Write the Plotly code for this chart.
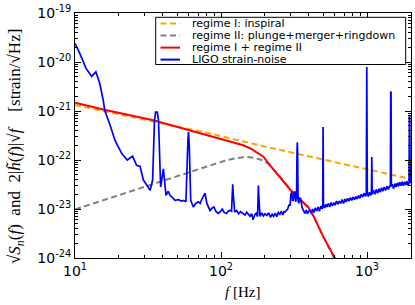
import plotly.graph_objects as go

# ---------------- data ----------------
ligo_f = [10.0, 10.8, 11.9, 13.0, 13.9, 14.8, 15.6, 16.0, 17.4, 18.8, 20.9, 22.8, 24.8, 26.4, 27.9,
          29.4, 30.5, 32.7, 34.0, 35.0, 35.6, 36.6, 37.3, 38.6, 40.3, 42.0, 43.5, 44.7, 46.5, 48.4,
          51, 53.7, 55.5, 57.5, 59.3, 59.9, 60.6, 62.0, 64.6, 67, 70, 72, 74, 77.7, 80, 82, 84.1,
          87, 89.5, 92, 95.5, 98.5,
          102, 105, 109, 112, 115, 118, 119.5, 120.3, 121.2, 124, 128, 132, 136, 142, 146, 150, 154,
          158, 162, 166, 170, 174, 178, 179.3, 180.2, 181.2, 185, 190, 195, 200, 206, 212, 218, 224,
          229, 235, 241, 247, 253, 259, 265, 270, 274, 280, 286, 292, 297, 301, 305, 309, 313, 317,
          321, 325, 329, 331.5, 333, 334.5, 337, 341, 346, 352, 358, 366, 375, 383, 390, 398, 407,
          415, 424, 433, 442, 452, 462, 472, 482, 492, 497, 500, 503, 512, 522, 532, 543, 555, 567,
          580, 592, 605, 618, 632, 646, 660, 675, 690, 705, 720, 736, 752, 768, 785, 802, 820, 838,
          856, 875, 894, 913, 933, 953, 975, 988, 996, 1004, 1020, 1040, 1060, 1072, 1078, 1084,
          1105, 1130, 1155, 1180, 1205, 1230, 1255, 1280, 1310, 1340, 1370, 1400, 1430, 1445, 1452,
          1460, 1467, 1490, 1520, 1550, 1580, 1610, 1640, 1670, 1700, 1735, 1770, 1805, 1840, 1875,
          1910, 1940, 1950, 1960, 1975, 2000]
ligo_asd = [2.4e-20, 1.48e-20, 7.4e-21, 5.1e-21, 6.3e-21, 3.6e-21, 1.66e-21, 1.02e-21, 5.1e-22,
            2.5e-22, 1.35e-22, 1.0e-22, 1.2e-22, 7.8e-23, 7.4e-23, 3.9e-23, 3.3e-23, 2.4e-23,
            3.9e-23, 6.0e-22, 9.5e-22, 9.5e-22, 6.5e-22, 2.8e-23, 6.6e-23, 1.9e-23, 2.3e-23,
            1.9e-23, 1.7e-23, 1.5e-23, 1.55e-23, 1.45e-23, 1.5e-23, 1.4e-23, 2.5e-22, 3.7e-22,
            2.0e-22, 1.5e-23, 1.1e-23, 1.3e-23, 1.4e-23, 1.3e-23, 1.6e-23, 2.1e-23, 1.3e-23,
            1.1e-23, 9.3e-24, 1.05e-23, 1.1e-23, 9.0e-24, 8.1e-24, 8.7e-24,
            1.0e-23, 8.5e-24, 8.1e-24, 9.0e-24, 9.3e-24, 9.0e-24, 2.5e-23, 3.2e-23, 2.0e-23,
            8.7e-24, 9.3e-24, 8.0e-24, 8.8e-24, 8.1e-24, 7.5e-24, 8.6e-24, 7.7e-24, 7.1e-24,
            8.0e-24, 6.0e-24, 7.6e-24, 8.2e-24, 7.0e-24, 2.4e-23, 3.0e-23, 2.0e-23, 7.1e-24,
            8.3e-24, 7.2e-24, 8.0e-24, 7.4e-24, 8.4e-24, 6.8e-24, 7.8e-24, 7.1e-24, 8.2e-24,
            7.0e-24, 8.5e-24, 7.8e-24, 9.0e-24, 7.6e-24, 8.8e-24, 8.7e-24, 9.5e-24, 1.0e-23,
            1.2e-23, 1.2e-23, 2.0e-23, 2.2e-23, 1.5e-23, 1.5e-23, 2.2e-23, 2.2e-23, 1.4e-23,
            2.0e-23, 1.5e-22, 2.3e-22, 1.5e-22, 1.5e-23, 1.3e-23, 1.7e-23, 1.6e-23, 1.1e-23,
            9.3e-24, 8.1e-24, 9.5e-24, 8.0e-24, 9.0e-24, 9.3e-24, 8.2e-24, 1.0e-23, 8.5e-24,
            1.05e-23, 9.1e-24, 1.1e-23, 9.0e-24, 1.15e-23, 1.0e-23, 1.1e-23, 4.7e-22, 1.2e-23,
            1.05e-23, 1.25e-23, 1.1e-23, 1.3e-23, 1.1e-23, 1.35e-23, 1.15e-23, 1.35e-23, 1.2e-23,
            1.45e-23, 1.25e-23, 1.45e-23, 1.3e-23, 1.55e-23, 1.3e-23, 1.6e-23, 1.4e-23, 1.65e-23,
            1.45e-23, 1.7e-23, 1.5e-23, 1.75e-23, 1.55e-23, 1.8e-23, 1.6e-23, 1.9e-23, 1.65e-23,
            2.0e-23, 1.75e-23, 2.1e-23, 1.8e-23, 2.0e-23, 7.9e-21, 2.1e-23, 1.8e-23, 2.2e-23,
            1.9e-23, 2.2e-23, 1.15e-22, 2.0e-23, 2.4e-23, 2.0e-23, 2.5e-23, 2.1e-23, 2.6e-23,
            2.2e-23, 2.7e-23, 2.3e-23, 2.8e-23, 2.4e-23, 2.9e-23, 2.5e-23, 3.0e-23, 2.8e-23,
            2.5e-21, 2.4e-21, 2.9e-23, 3.2e-23, 2.6e-23, 3.3e-23, 2.8e-23, 3.4e-23, 2.9e-23,
            3.5e-23, 3.0e-23, 3.6e-23, 3.0e-23, 3.6e-23, 3.1e-23, 3.7e-23, 3.0e-23, 3.5e-23,
            7.6e-22, 7.6e-22, 3.4e-23, 3.6e-23]

inspiral_f = [10, 84, 216, 1862, 2000]
inspiral_h = [1.32e-21, 3.47e-22, 1.78e-22, 4.27e-23, 4.1e-23]

pmr_f = [10, 30, 60, 90, 110, 130, 150, 170, 190, 210, 240, 270, 300, 345, 395, 428, 502, 604, 650]
pmr_h = [9.8e-24, 2.8e-23, 5.6e-23, 8.3e-23, 1.0e-22, 1.1e-22, 1.15e-22, 1.1e-22, 1.0e-22, 8.5e-23,
         5.5e-23, 3.7e-23, 2.4e-23, 1.55e-23, 1.08e-23, 7.3e-24, 2.7e-24, 9.8e-25, 6.0e-25]

total_f = [10, 15.6, 34.4, 58, 98.5, 142, 160, 175, 195, 216, 253, 297, 345, 395, 428, 502, 604, 650]
total_h = [1.48e-21, 1.07e-21, 6.5e-22, 4.2e-22, 2.75e-22, 2.0e-22, 1.7e-22, 1.45e-22, 1.17e-22,
           7.9e-23, 4.4e-23, 2.5e-23, 1.6e-23, 1.1e-23, 7.4e-24, 2.7e-24, 9.8e-25, 6.0e-25]

x_ticks = [10, 100, 1000]
x_ticktext = ["10<sup>1</sup>", "10<sup>2</sup>", "10<sup>3</sup>"]
y_ticks = [1e-24, 1e-23, 1e-22, 1e-21, 1e-20, 1e-19]
y_ticktext = ["10<sup>-24</sup>", "10<sup>-23</sup>", "10<sup>-22</sup>",
              "10<sup>-21</sup>", "10<sup>-20</sup>", "10<sup>-19</sup>"]

legend_labels = ["regime I: inspiral", "regime II: plunge+merger+ringdown",
                 "regime I + regime II", "LIGO strain-noise"]
ORANGE, GREY, RED, BLUE = "#FFA500", "#808080", "#FF0000", "#0000FF"

# ---------------- figure ----------------
fig = go.Figure()
fig.add_trace(go.Scatter(x=inspiral_f, y=inspiral_h, mode="lines", name=legend_labels[0],
                         line=dict(color=ORANGE, width=2, dash="6px,3.5px")))
fig.add_trace(go.Scatter(x=pmr_f, y=pmr_h, mode="lines", name=legend_labels[1],
                         line=dict(color=GREY, width=2, dash="6px,3.5px")))
fig.add_trace(go.Scatter(x=total_f, y=total_h, mode="lines", name=legend_labels[2],
                         line=dict(color=RED, width=2)))
fig.add_trace(go.Scatter(x=ligo_f, y=ligo_asd, mode="lines", name=legend_labels[3],
                         line=dict(color=BLUE, width=1.7)))

W, H = 415, 305
ML, MR, MT, MB = 75, 4, 13, 47
PW, PH = W - ML - MR, H - MT - MB


def px(xpix):
    return (xpix - ML) / PW


def py(ypix):
    return (H - MB - ypix) / PH


tickfont = dict(family="DejaVu Sans", size=14, color="black")
x_minor = [m * d for d in (10, 100, 1000) for m in range(2, 10)]
y_minor = [m * d for d in (1e-24, 1e-23, 1e-22, 1e-21, 1e-20) for m in range(2, 10)]

fig.update_xaxes(type="log", range=[1, 3.301], tickvals=x_ticks, ticktext=x_ticktext,
                 ticks="inside", ticklen=6, tickwidth=1, tickcolor="black",
                 showline=True, linecolor="black", linewidth=1, mirror="allticks",
                 showgrid=False, zeroline=False, tickfont=tickfont,
                 minor=dict(tickvals=x_minor, ticks="inside", ticklen=3, tickcolor="black",
                            showgrid=False))
fig.update_yaxes(type="log", range=[-24, -19], tickvals=y_ticks, ticktext=y_ticktext,
                 ticks="inside", ticklen=6, tickwidth=1, tickcolor="black",
                 showline=True, linecolor="black", linewidth=1, mirror="allticks",
                 showgrid=False, zeroline=False, tickfont=tickfont,
                 minor=dict(tickvals=y_minor, ticks="inside", ticklen=3, tickcolor="black",
                            showgrid=False))

# manual legend (compact, matplotlib-like)
shapes = [dict(type="rect", xref="paper", yref="paper", x0=px(155.7), x1=px(405.7),
               y0=py(64.5), y1=py(17.3), line=dict(color="black", width=1),
               fillcolor="white", layer="above")]
annotations = []
rows = [23.6, 35.6, 47.6, 59.6]
styles = [(ORANGE, "6px,3.5px"), (GREY, "6px,3.5px"), (RED, "solid"), (BLUE, "solid")]
for (col, dash), yy, lab in zip(styles, rows, legend_labels):
    shapes.append(dict(type="line", xref="paper", yref="paper", x0=px(160.5), x1=px(180),
                       y0=py(yy), y1=py(yy), line=dict(color=col, width=2, dash=dash),
                       layer="above"))
    annotations.append(dict(text=lab, xref="paper", yref="paper", x=px(191), y=py(yy),
                            xanchor="left", yanchor="middle", showarrow=False, borderpad=0,
                            font=dict(family="DejaVu Sans", size=11, color="black")))

serif = "Liberation Serif"
NB = "\u00a0"
ytitle = ("√<i>S</i><sub><i>n</i></sub>(<i>f</i>)" + NB * 2 + "and" + NB * 2 +
          "2|<i>h̃</i>(<i>f</i>)|√<i>f</i>" + NB * 4 + "[strain/√Hz]")
annotations.append(dict(
    text=ytitle, xref="paper", yref="paper", x=px(16), y=py(147), textangle=-90,
    xanchor="center", yanchor="middle", showarrow=False,
    font=dict(family=serif, size=17, color="black")))
annotations.append(dict(text="<i>f</i> [Hz]", xref="paper", yref="paper", x=px(242), y=py(292),
                        xanchor="center", yanchor="middle", showarrow=False,
                        font=dict(family=serif, size=15, color="black")))

fig.update_layout(width=W, height=H, margin=dict(l=ML, r=MR, t=MT, b=MB),
                  paper_bgcolor="white", plot_bgcolor="white", showlegend=False,
                  shapes=shapes, annotations=annotations)

fig.write_html("out.html", config={"displayModeBar": False},
               post_script="document.body.style.margin='0px';")
